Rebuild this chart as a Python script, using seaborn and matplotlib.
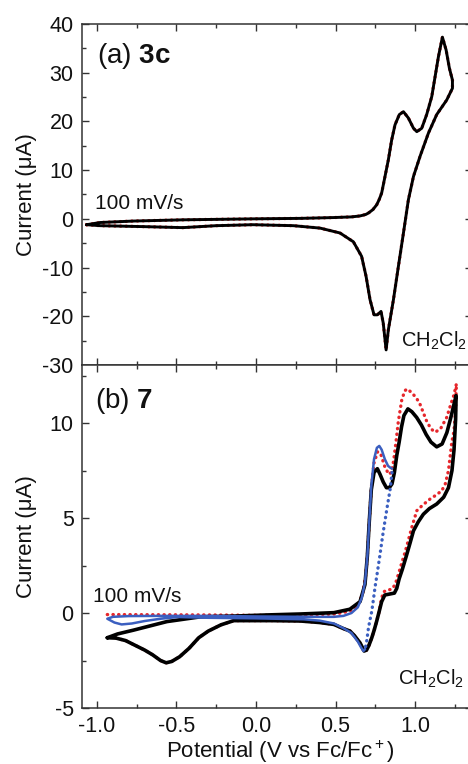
import matplotlib
matplotlib.use("Agg")
from matplotlib import pyplot as plt
from matplotlib.ticker import MultipleLocator
import seaborn as sns

# ---- (a) 3c : one closed CV loop (red scan sits right under the black one)
v_3c = [-1.065, -0.98, -0.77, -0.46, -0.02, 0.28, 0.49, 0.60, 0.654, 0.69, 0.707, 0.735,
        0.759, 0.775, 0.79, 0.811, 0.832, 0.853, 0.874, 0.901, 0.927, 0.958, 0.99, 1.011,
        1.042, 1.073, 1.105, 1.126, 1.147, 1.172, 1.195, 1.216, 1.235,
        1.235, 1.199, 1.136, 1.084, 1.031, 0.99, 0.958, 0.927, 0.895, 0.864, 0.832, 0.818,
        0.80, 0.786, 0.763, 0.742, 0.717, 0.692, 0.664, 0.612, 0.528, 0.403, 0.235,
        -0.02, -0.25, -0.46, -0.70, -0.98, -1.065]
i_3c = [-1.2, -0.75, -0.45, -0.2, 0.0, 0.1, 0.27, 0.4, 0.6, 0.9, 1.2, 1.9,
        2.9, 4.0, 5.3, 8.7, 12.1, 16.2, 19.3, 21.4, 22.0, 20.7, 18.6, 17.9,
        18.6, 21.4, 25.1, 29.2, 33.3, 37.3, 34.7, 30.9, 28.5,
        26.8, 24.4, 21.4, 17.6, 12.8, 8.7, 3.9, -2.9, -9.8, -16.6, -22.8, -26.9,
        -21.4, -19.0, -19.7, -19.7, -16.6, -11.8, -7.7, -4.7, -2.9, -1.9, -1.4,
        -1.2, -1.4, -1.8, -1.6, -1.4, -1.2]

# ---- (b) 7 : black scan (closed loop)
v_7k = [-0.935, -0.87, -0.77, -0.56, -0.35, -0.14, 0.07, 0.28, 0.49, 0.59, 0.654, 0.685,
        0.70, 0.712, 0.725, 0.742, 0.763, 0.78, 0.80, 0.82, 0.838, 0.855, 0.87, 0.885,
        0.90, 0.915, 0.93, 0.955, 0.98, 1.01, 1.04, 1.07, 1.10, 1.136, 1.17, 1.20,
        1.225, 1.245, 1.258,
        1.255, 1.245, 1.232, 1.21, 1.18, 1.136, 1.09, 1.052, 1.02, 0.99, 0.969, 0.945,
        0.92, 0.90, 0.885, 0.87, 0.84, 0.81, 0.79, 0.775, 0.759, 0.743, 0.728, 0.71,
        0.695, 0.68, 0.665, 0.654, 0.62, 0.591, 0.55, 0.49, 0.40, 0.28, 0.10, -0.14,
        -0.22, -0.30, -0.36, -0.42, -0.48, -0.53, -0.565, -0.60, -0.65, -0.70, -0.76,
        -0.82, -0.88, -0.935]
i_7k = [-1.30, -1.10, -0.90, -0.45, -0.20, -0.16, -0.10, -0.05, 0.02, 0.2, 0.6, 1.5,
        3.0, 4.8, 6.5, 7.4, 7.6, 7.3, 6.9, 6.6, 6.6, 6.8, 7.4, 8.3,
        9.0, 9.8, 10.4, 10.75, 10.6, 10.3, 9.9, 9.4, 9.0, 8.75, 8.9, 9.5,
        10.3, 11.0, 11.45,
        10.2, 8.6, 7.5, 6.6, 6.1, 5.74, 5.5, 5.2, 4.8, 4.33, 3.7, 3.0,
        2.3, 1.8, 1.3, 1.05, 1.0, 0.95, 0.6, 0.1, -0.42, -0.9, -1.3, -1.7,
        -1.95, -2.0, -1.75, -1.57, -1.2, -0.95, -0.82, -0.6, -0.5, -0.42, -0.40, -0.40,
        -0.62, -0.95, -1.3, -1.85, -2.3, -2.55, -2.62, -2.5, -2.2, -1.95, -1.7,
        -1.45, -1.32, -1.30]

# red scan (first sweep, open)
v_7r = [-0.935, -0.60, -0.30, 0.0, 0.30, 0.50, 0.59, 0.64, 0.67, 0.69, 0.70, 0.712,
        0.725, 0.742, 0.765, 0.785, 0.81, 0.835, 0.85, 0.865, 0.88, 0.895, 0.916, 0.935,
        0.95, 0.98, 1.01, 1.031, 1.073, 1.10, 1.126, 1.16, 1.199, 1.225, 1.245, 1.26,
        1.255, 1.245, 1.231, 1.21, 1.19, 1.168, 1.13, 1.094, 1.05, 1.011, 0.979, 0.96,
        0.937, 0.915, 0.895, 0.875, 0.853, 0.82, 0.80, 0.785, 0.775, 0.759, 0.743, 0.728,
        0.71, 0.695, 0.68, 0.665, 0.654, 0.62, 0.591, 0.55, 0.49, 0.40, 0.28, 0.10,
        -0.14, -0.22, -0.30, -0.36, -0.42, -0.48, -0.53, -0.565, -0.60, -0.65, -0.70,
        -0.76, -0.82, -0.88]
i_7r = [-0.08, -0.09, -0.10, -0.12, -0.10, -0.05, 0.1, 0.4, 1.0, 2.0, 3.0, 4.8,
        6.6, 7.9, 8.5, 8.35, 7.7, 7.3, 7.4, 8.0, 9.0, 10.1, 11.2, 11.7,
        11.8, 11.6, 11.3, 11.0, 10.1, 9.7, 9.52, 9.7, 10.3, 11.0, 11.5, 12.07,
        10.7, 9.6, 9.0, 7.5, 6.8, 6.44, 6.2, 6.0, 5.7, 5.39, 4.5, 3.9,
        3.2, 2.6, 2.04, 1.5, 1.25, 1.2, 1.1, 0.6, 0.1, -0.42, -0.9, -1.3,
        -1.7, -1.95, -2.05, -1.8, -1.6, -1.2, -0.95, -0.82, -0.6, -0.5, -0.42, -0.40,
        -0.40, -0.62, -0.95, -1.3, -1.85, -2.3, -2.55, -2.62, -2.5, -2.2, -1.95,
        -1.7, -1.45, -1.32]

# blue scan (narrow window): loop part and steep return part
v_7b = [0.686, 0.675, 0.66, 0.64, 0.60, 0.55, 0.49, 0.40, 0.30, 0.0, -0.30, -0.49,
        -0.60, -0.70, -0.78, -0.845, -0.89, -0.935, -0.90, -0.80, -0.60, -0.30, 0.0,
        0.30, 0.49, 0.55, 0.60, 0.64, 0.665, 0.685, 0.70, 0.712, 0.725, 0.742, 0.76,
        0.775, 0.79, 0.81, 0.83, 0.845, 0.855]
i_7b = [-1.9, -2.0, -1.8, -1.5, -1.05, -0.8, -0.55, -0.4, -0.33, -0.28, -0.25, -0.21,
        -0.3, -0.42, -0.55, -0.6, -0.5, -0.3, -0.2, -0.16, -0.15, -0.15, -0.18,
        -0.2, -0.2, -0.15, 0.0, 0.3, 0.8, 1.6, 3.0, 4.8, 6.7, 8.1, 8.7,
        8.8, 8.6, 8.1, 7.75, 7.65, 7.6]
v_7b_ret = [0.855, 0.843, 0.827, 0.811, 0.795, 0.78, 0.764, 0.748, 0.738, 0.728,
            0.717, 0.707, 0.696, 0.686]
i_7b_ret = [7.4, 6.5, 5.7, 4.86, 4.0, 3.1, 2.2, 1.34, 0.7, 0.1, -0.35, -0.78, -1.48, -1.9]

red = "#e6262b"
blue = "#3b5fc0"
dots = (0, (0.1, 1.6))

sns.set_style("ticks")
plt.rcParams['font.family'] = ['Liberation Sans', 'DejaVu Sans']
plt.rcParams['mathtext.fontset'] = 'custom'
plt.rcParams['mathtext.rm'] = 'Liberation Sans'
plt.rcParams['mathtext.it'] = 'Liberation Sans:italic'
plt.rcParams['mathtext.bf'] = 'Liberation Sans:bold'
plt.rcParams['axes.unicode_minus'] = False

fig = plt.figure(figsize=(4.68, 7.64), dpi=100)
ax1 = fig.add_axes([82/468, 1-365/764, 390/468, 341/764])
ax2 = fig.add_axes([82/468, 1-708/764, 390/468, 343/764])

# top panel
sns.lineplot(x=v_3c, y=i_3c, sort=False, estimator=None, color=red, lw=2.4,
             linestyle=dots, dash_capstyle="round", ax=ax1)
sns.lineplot(x=v_3c, y=i_3c, sort=False, estimator=None, color="black", lw=2.1, ax=ax1)

# bottom panel
sns.lineplot(x=v_7r, y=i_7r, sort=False, estimator=None, color=red, lw=2.4,
             linestyle=dots, dash_capstyle="round", ax=ax2)
sns.lineplot(x=v_7k, y=i_7k, sort=False, estimator=None, color="black", lw=2.6, ax=ax2)
sns.lineplot(x=v_7b, y=i_7b, sort=False, estimator=None, color=blue, lw=1.8, ax=ax2)
sns.lineplot(x=v_7b_ret, y=i_7b_ret, sort=False, estimator=None, color=blue, lw=2.4,
             linestyle=dots, dash_capstyle="round", ax=ax2)

for ax in (ax1, ax2):
    ax.set_xlim(-1.094, 1.358)
    ax.xaxis.set_major_locator(MultipleLocator(0.5))
    ax.xaxis.set_minor_locator(MultipleLocator(0.25))
    ax.tick_params(which="both", direction="in", top=True, right=True,
                   color="#333333", labelsize=15.5, labelcolor="#111111")
    ax.tick_params(which="major", length=5, width=1, pad=6)
    ax.tick_params(which="minor", length=3, width=1)
    for s in ax.spines.values():
        s.set_color("#333333")
        s.set_linewidth(1.1)
    ax.set_ylabel("Current (μA)", fontsize=16, color="#111111")
    ax.yaxis.set_label_coords(-0.116, 0.5)

ax1.set_ylim(-30, 40)
ax1.yaxis.set_major_locator(MultipleLocator(10))
ax1.yaxis.set_minor_locator(MultipleLocator(5))
ax1.tick_params(labelbottom=False)
ax1.set_xlabel("")

ax2.set_ylim(-5, 13.06)
ax2.yaxis.set_major_locator(MultipleLocator(5))
ax2.yaxis.set_minor_locator(MultipleLocator(2.5))
ax2.set_xticks([-1.0, -0.5, 0.0, 0.5, 1.0])
ax2.set_xticklabels(["-1.0", "-0.5", "0.0", "0.5", "1.0"])
ax2.set_xlabel("Potential (V vs Fc/Fc$^+$)", fontsize=16, color="#111111")
ax2.xaxis.label.set_va("baseline")
ax2.xaxis.set_label_coords(0.507, -0.146)

# annotations
ax1.text(0.038, 0.885, r"(a) $\mathbf{3c}$", transform=ax1.transAxes, fontsize=20,
         va="baseline", color="#111111")
ax2.text(0.033, 0.875, r"(b) $\mathbf{7}$", transform=ax2.transAxes, fontsize=20,
         va="baseline", color="#111111")
ax1.text(0.033, 0.457, "100 mV/s", transform=ax1.transAxes, fontsize=15, va="baseline",
         color="#111111")
ax2.text(0.029, 0.31, "100 mV/s", transform=ax2.transAxes, fontsize=15, va="baseline",
         color="#111111")
ax1.text(0.818, 0.054, "CH$_2$Cl$_2$", transform=ax1.transAxes, fontsize=14.5,
         va="baseline", color="#111111")
ax2.text(0.81, 0.067, "CH$_2$Cl$_2$", transform=ax2.transAxes, fontsize=14.5,
         va="baseline", color="#111111")

fig.savefig("out.png", dpi=100)
